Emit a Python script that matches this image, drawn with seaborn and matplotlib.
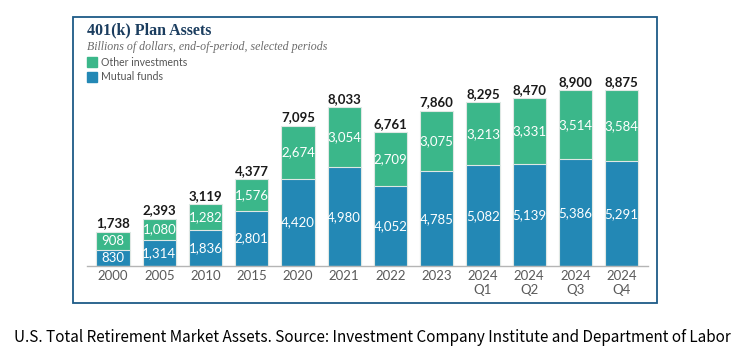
import numpy as np
import pandas as pd
import matplotlib
matplotlib.use("Agg")
import matplotlib.pyplot as plt
import matplotlib.patches as mpatches
import seaborn as sns

# ─── Data ─────────────────────────────────────────────────────────────────────
periods = ["2000", "2005", "2010", "2015", "2020", "2021", "2022", "2023",
           "2024\nQ1", "2024\nQ2", "2024\nQ3", "2024\nQ4"]
mutual_funds = [830, 1314, 1836, 2801, 4420, 4980, 4052, 4785, 5082, 5139, 5386, 5291]
other_investments = [908, 1080, 1282, 1576, 2674, 3054, 2709, 3075, 3213, 3331, 3514, 3584]
totals = [1738, 2393, 3119, 4377, 7095, 8033, 6761, 7860, 8295, 8470, 8900, 8875]

GREEN = "#3bb78a"
BLUE = "#2388b5"
NAVY = "#1d5a87"

df = pd.DataFrame({"period": periods, "mutual": mutual_funds,
                   "other": other_investments, "total": totals})

sns.set_theme(style="white")
plt.rcParams["font.family"] = ["Lato", "DejaVu Sans"]

W, H = 746, 360
fig = plt.figure(figsize=(W / 100, H / 100), dpi=100)
fig.patch.set_facecolor("white")

# framed box
fig.patches.append(mpatches.Rectangle((73 / W, 1 - 303 / H), (657 - 73) / W, (303 - 17) / H,
                                      transform=fig.transFigure, fill=False,
                                      edgecolor=NAVY, linewidth=1.3))

ax = fig.add_axes([87 / W, 1 - 266 / H, (648 - 87) / W, 186 / H])
sns.barplot(data=df, x="period", y="total", color=GREEN, saturation=1,
            width=0.72, edgecolor="#dfe8e4", linewidth=0.8, ax=ax)
sns.barplot(data=df, x="period", y="mutual", color=BLUE, saturation=1,
            width=0.72, edgecolor="#dfe8e4", linewidth=0.8, ax=ax)

ax.set_xlim(-0.563, 11.57)
ax.set_ylim(0, 9403)
ax.set_xlabel("")
ax.set_ylabel("")
ax.set_yticks([])
for s in ["top", "right", "left"]:
    ax.spines[s].set_visible(False)
ax.spines["bottom"].set_color("#b5b5b5")
ax.spines["bottom"].set_linewidth(1.0)
ax.tick_params(axis="x", length=0, pad=3, labelsize=9.5, labelcolor="#5a5a5a")
ax.patch.set_alpha(0)

for i, (m, o, t) in enumerate(zip(mutual_funds, other_investments, totals)):
    ax.text(i, m / 2, f"{m:,}", ha="center", va="center", color="white", fontsize=9.5)
    ax.text(i, m + o / 2, f"{o:,}", ha="center", va="center", color="white", fontsize=9.5)
    ax.text(i, t + 110, f"{t:,}", ha="center", va="bottom", color="#1a1a1a",
            fontsize=9.5, fontweight="bold")

# title / subtitle / legend
fig.text(87 / W, 1 - 30 / H, "401(k) Plan Assets", family="Liberation Serif",
         fontweight="bold", fontsize=11.5, color="#1b3d5f", va="center")
fig.text(87 / W, 1 - 47 / H, "Billions of dollars, end-of-period, selected periods",
         family="Liberation Serif", style="italic", fontsize=8.6, color="#6b6b6b", va="center")
for y, c, lab in [(62, GREEN, "Other investments"), (77, BLUE, "Mutual funds")]:
    fig.patches.append(mpatches.Rectangle((87 / W, 1 - (y + 5) / H), 10 / W, 10 / H,
                                          transform=fig.transFigure, color=c))
    fig.text(101 / W, 1 - y / H, lab, fontsize=7.6, color="#555555", va="center")

fig.text(372 / W, 1 - 338 / H,
         "U.S. Total Retirement Market Assets. Source: Investment Company Institute and Department of Labor",
         ha="center", va="center", fontsize=11, color="black",
         family=["Noto Sans CJK KR", "DejaVu Sans"])

fig.savefig("out.png", dpi=100, facecolor="white")
